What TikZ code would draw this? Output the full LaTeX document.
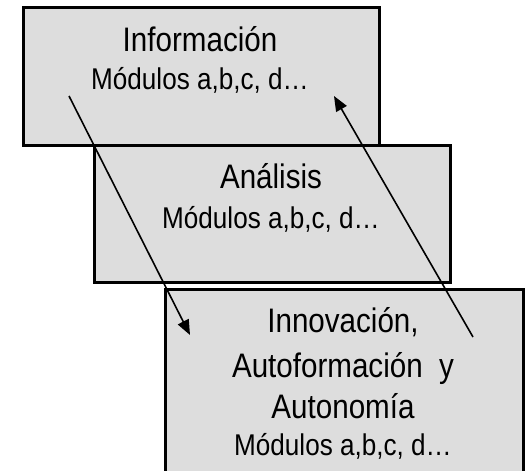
\documentclass[tikz,border=0pt]{standalone}
\usepackage{fontspec}
\setmainfont{Liberation Sans}[FakeStretch=0.87]
\usetikzlibrary{arrows.meta}
\definecolor{black}{RGB}{0,0,0}
\definecolor{box_gray}{RGB}{221,221,221}

\tikzset{
	stage/.style={rectangle,draw=black,fill=box_gray,line width=2.6pt,anchor=north west,inner sep=0pt},
	title/.style={anchor=base,font=\fontsize{34}{34}\selectfont},
	sub/.style={anchor=base,font=\fontsize{30}{30}\selectfont},
	flow/.style={black,line width=1.6pt,-{Triangle[length=15pt,width=12pt]}}
}

\begin{document}
\begin{tikzpicture}[x=1pt,y=-1pt]
	\useasboundingbox (0,0) rectangle (528,471);

	\node[stage,minimum width=356pt,minimum height=138pt] (info) at (22,6) {};
	\node[stage,minimum width=356pt,minimum height=137pt] (anal) at (93,144) {};
	\node[stage,minimum width=358pt,minimum height=200pt] (inno) at (164,288) {};

	\node[title] (t1) at (200,51) {Información};
	\node[sub] (s1) at (200,89) {Módulos a,b,c, d…};
	\node[title] (t2) at (271,188) {Análisis};
	\node[sub] (s2) at (271,228) {Módulos a,b,c, d…};
	\node[title] (t3a) at (343,332) {Innovación,};
	\node[title] (t3b) at (343,377) {Autoformación\ \ y};
	\node[title] (t3c) at (343,418) {Autonomía};
	\node[sub] (s3) at (343,455) {Módulos a,b,c, d…};

	\coordinate (down1) at (69,96);
	\coordinate (down2) at (190,335);
	\coordinate (up1) at (473,337);
	\coordinate (up2) at (334,96);

	\foreach \x/\y in {down1/down2,up1/up2}
		\draw[flow] (\x) -- (\y);
\end{tikzpicture}
\end{document}
